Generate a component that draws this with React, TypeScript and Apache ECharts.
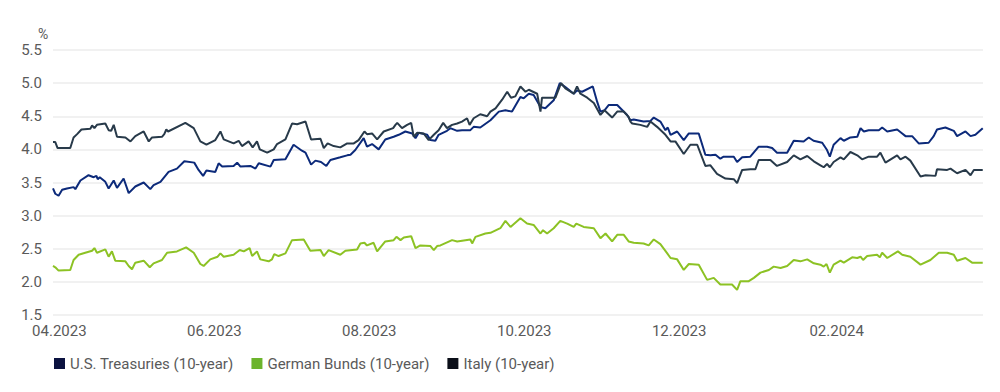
import React, { useEffect, useRef } from "react";
import * as echarts from "echarts";

// x = days after 1 April 2023, y = yield in %
const usTreasuries: [number, number][] = [
  [-2.5, 3.41], [-1.6, 3.33], [-0.3, 3.3], [1.1, 3.39], [3.0, 3.41], [5.6, 3.43], [6.3, 3.4], [8.3, 3.53], [11.5, 3.61], [13.5, 3.58],
  [14.6, 3.6], [15.1, 3.55], [15.9, 3.58], [18.1, 3.51], [19.4, 3.41], [21.4, 3.53], [22.7, 3.42], [25.3, 3.56], [27.3, 3.34], [29.9, 3.44],
  [33.2, 3.5], [35.8, 3.4], [37.1, 3.46], [39.8, 3.51], [43.0, 3.66], [46.3, 3.71], [49.2, 3.82], [53.1, 3.8], [54.8, 3.69], [56.6, 3.6],
  [57.9, 3.68], [61.4, 3.66], [62.7, 3.79], [64.1, 3.74], [68.6, 3.75], [70.0, 3.8], [71.3, 3.74], [75.2, 3.75], [77.2, 3.71], [78.5, 3.79],
  [83.1, 3.74], [84.4, 3.84], [89.0, 3.85], [92.2, 4.07], [95.5, 3.98], [96.9, 3.95], [99.1, 3.77], [100.8, 3.83], [103.0, 3.81], [105.1, 3.75],
  [106.7, 3.84], [110.6, 3.88], [113.3, 3.91], [114.6, 3.92], [116.5, 3.99], [119.8, 4.17], [121.1, 4.04], [123.1, 4.08], [125.7, 4.0], [128.3, 4.15],
  [131.6, 4.19], [133.6, 4.22], [136.2, 4.27], [138.9, 4.24], [140.2, 4.17], [141.5, 4.25], [144.8, 4.22], [146.1, 4.14], [148.0, 4.13], [149.3, 4.22],
  [152.6, 4.28], [153.9, 4.32], [156.6, 4.28], [158.5, 4.29], [161.8, 4.29], [163.1, 4.34], [165.7, 4.33], [169.7, 4.44], [173.0, 4.57], [175.6, 4.59],
  [178.2, 4.57], [181.5, 4.79], [182.8, 4.77], [184.8, 4.84], [186.7, 4.82], [189.4, 4.64], [191.3, 4.62], [194.6, 4.74], [197.0, 5.0], [199.2, 4.94],
  [202.5, 4.84], [203.8, 4.89], [205.8, 4.87], [210.0, 4.95], [211.7, 4.72], [213.0, 4.57], [214.6, 4.59], [216.3, 4.67], [219.6, 4.67], [223.5, 4.52],
  [224.8, 4.44], [226.1, 4.45], [230.0, 4.42], [232.7, 4.43], [234.0, 4.48], [236.6, 4.42], [238.6, 4.29], [239.5, 4.33], [240.6, 4.22], [243.2, 4.27],
  [245.8, 4.14], [247.8, 4.24], [251.7, 4.24], [254.3, 3.92], [256.3, 3.91], [258.3, 3.92], [260.2, 3.86], [261.5, 3.89], [265.5, 3.89], [266.8, 3.81],
  [268.8, 3.88], [272.0, 3.89], [275.3, 4.04], [278.6, 4.04], [280.6, 4.02], [282.5, 3.95], [286.5, 3.95], [289.1, 4.13], [293.0, 4.12], [295.0, 4.18],
  [296.9, 4.13], [300.3, 4.1], [302.2, 3.99], [303.3, 3.89], [304.8, 4.07], [307.5, 4.17], [308.8, 4.13], [311.4, 4.18], [314.1, 4.19], [315.4, 4.32],
  [316.7, 4.27], [318.6, 4.29], [322.6, 4.29], [323.9, 4.33], [325.9, 4.27], [329.8, 4.3], [331.8, 4.24], [333.1, 4.2], [335.7, 4.2], [338.3, 4.09],
  [342.2, 4.1], [344.2, 4.2], [345.5, 4.3], [348.8, 4.33], [352.1, 4.28], [353.4, 4.2], [356.7, 4.27], [358.7, 4.2], [360.6, 4.22], [363.5, 4.32],
];

const germanBunds: [number, number][] = [
  [-2.5, 2.24], [-1.6, 2.22], [-0.3, 2.17], [4.3, 2.18], [5.6, 2.33], [7.6, 2.41], [10.2, 2.44], [12.9, 2.47], [13.8, 2.51], [14.8, 2.44],
  [18.1, 2.49], [19.4, 2.38], [20.7, 2.46], [22.0, 2.32], [26.0, 2.31], [27.3, 2.24], [28.6, 2.19], [29.9, 2.29], [33.2, 2.32], [35.6, 2.22],
  [37.1, 2.28], [40.4, 2.33], [42.4, 2.44], [46.3, 2.46], [49.9, 2.52], [52.9, 2.44], [55.5, 2.27], [56.8, 2.24], [59.4, 2.34], [62.3, 2.38],
  [63.4, 2.43], [64.7, 2.38], [68.6, 2.41], [71.0, 2.48], [72.6, 2.46], [74.9, 2.51], [75.9, 2.39], [77.8, 2.46], [79.1, 2.34], [82.4, 2.31],
  [83.7, 2.34], [84.6, 2.42], [86.3, 2.39], [89.0, 2.43], [91.6, 2.63], [96.2, 2.64], [98.8, 2.47], [102.8, 2.48], [104.1, 2.39], [106.0, 2.48],
  [110.6, 2.41], [112.6, 2.47], [117.2, 2.49], [118.5, 2.58], [120.1, 2.59], [121.1, 2.55], [123.7, 2.59], [125.1, 2.46], [128.3, 2.61], [131.6, 2.63],
  [132.7, 2.68], [134.3, 2.63], [135.6, 2.67], [138.5, 2.69], [140.2, 2.51], [142.1, 2.55], [146.1, 2.54], [147.4, 2.48], [148.7, 2.54], [150.0, 2.55],
  [154.6, 2.63], [156.6, 2.61], [161.8, 2.64], [162.5, 2.58], [163.8, 2.68], [167.7, 2.73], [169.7, 2.74], [173.6, 2.81], [175.6, 2.92], [177.6, 2.83],
  [181.5, 2.96], [184.1, 2.88], [186.7, 2.86], [189.4, 2.73], [190.4, 2.78], [192.0, 2.73], [194.6, 2.81], [197.2, 2.92], [199.9, 2.88], [202.5, 2.83],
  [203.5, 2.88], [206.4, 2.83], [210.4, 2.81], [213.0, 2.66], [215.0, 2.73], [217.6, 2.61], [219.6, 2.71], [222.2, 2.71], [224.1, 2.61], [226.1, 2.59],
  [230.0, 2.58], [232.0, 2.55], [234.0, 2.64], [236.6, 2.57], [239.3, 2.43], [240.6, 2.36], [243.2, 2.34], [245.8, 2.18], [247.8, 2.27], [251.7, 2.26],
  [255.0, 2.03], [257.6, 2.06], [260.2, 1.96], [264.8, 1.96], [266.8, 1.88], [268.1, 2.01], [271.4, 2.01], [273.4, 2.06], [276.0, 2.14], [279.3, 2.18],
  [281.2, 2.23], [283.9, 2.21], [286.5, 2.24], [289.1, 2.33], [291.7, 2.31], [294.4, 2.34], [297.0, 2.28], [299.6, 2.26], [300.9, 2.23], [302.0, 2.27],
  [303.3, 2.14], [304.8, 2.26], [307.5, 2.32], [308.8, 2.29], [312.1, 2.37], [314.1, 2.36], [315.4, 2.38], [316.4, 2.33], [318.0, 2.39], [321.9, 2.41],
  [323.0, 2.37], [323.9, 2.44], [325.9, 2.36], [330.1, 2.46], [331.8, 2.41], [335.0, 2.38], [339.0, 2.26], [342.9, 2.33], [346.2, 2.44], [349.5, 2.44],
  [352.1, 2.41], [353.4, 2.32], [356.7, 2.36], [359.3, 2.29], [363.5, 2.29],
];

const italy: [number, number][] = [
  [-2.5, 4.11], [-1.6, 4.11], [-0.7, 4.02], [4.3, 4.02], [5.6, 4.18], [7.0, 4.23], [8.7, 4.3], [12.2, 4.31], [12.9, 4.36], [13.8, 4.32],
  [14.8, 4.37], [18.1, 4.39], [19.4, 4.29], [20.4, 4.28], [21.4, 4.37], [22.7, 4.19], [26.0, 4.18], [28.0, 4.12], [29.9, 4.2], [33.2, 4.27],
  [35.2, 4.12], [36.5, 4.18], [40.4, 4.19], [41.3, 4.23], [42.1, 4.3], [42.8, 4.27], [49.6, 4.4], [52.9, 4.32], [55.5, 4.12], [57.9, 4.07],
  [61.4, 4.14], [63.4, 4.27], [64.7, 4.15], [68.6, 4.09], [70.6, 4.13], [71.9, 4.05], [74.5, 4.12], [76.1, 4.03], [77.8, 4.12], [78.9, 4.0],
  [81.8, 3.95], [84.4, 4.0], [85.7, 4.08], [89.0, 4.15], [91.6, 4.39], [93.6, 4.38], [96.9, 4.42], [99.1, 4.15], [102.8, 4.16], [104.1, 4.02],
  [105.6, 4.09], [108.0, 4.05], [110.6, 4.03], [113.3, 4.09], [115.9, 4.09], [117.8, 4.14], [120.1, 4.27], [121.1, 4.23], [123.1, 4.24], [125.1, 4.15],
  [127.7, 4.27], [131.4, 4.32], [132.3, 4.37], [133.0, 4.4], [134.9, 4.32], [136.9, 4.37], [138.5, 4.4], [139.5, 4.19], [140.8, 4.25], [143.4, 4.24],
  [145.4, 4.14], [147.4, 4.22], [149.3, 4.29], [151.1, 4.4], [152.6, 4.32], [154.6, 4.37], [156.6, 4.39], [158.5, 4.42], [160.5, 4.47], [161.5, 4.37],
  [163.1, 4.47], [165.7, 4.53], [168.4, 4.5], [169.7, 4.57], [171.7, 4.62], [174.3, 4.75], [176.3, 4.87], [177.8, 4.78], [179.5, 4.8], [181.5, 4.95],
  [183.5, 4.87], [184.8, 4.9], [188.1, 4.84], [189.4, 4.57], [190.0, 4.78], [195.3, 4.78], [197.5, 5.0], [199.2, 4.92], [202.5, 4.84], [203.8, 4.95],
  [205.1, 4.84], [207.8, 4.78], [210.4, 4.7], [213.0, 4.52], [214.6, 4.59], [217.6, 4.48], [219.6, 4.57], [222.2, 4.57], [224.1, 4.49], [224.8, 4.42],
  [225.5, 4.39], [228.7, 4.37], [231.4, 4.34], [232.7, 4.42], [235.3, 4.34], [238.6, 4.22], [240.6, 4.12], [242.5, 4.12], [245.8, 3.93], [248.4, 4.07],
  [251.1, 4.07], [254.3, 3.75], [256.3, 3.76], [258.9, 3.63], [262.2, 3.56], [265.5, 3.55], [266.8, 3.49], [268.8, 3.69], [272.0, 3.7], [274.0, 3.7],
  [275.3, 3.84], [279.9, 3.84], [282.5, 3.75], [286.5, 3.81], [289.1, 3.91], [291.7, 3.85], [294.4, 3.9], [297.0, 3.82], [299.6, 3.76], [300.9, 3.73],
  [302.2, 3.78], [303.3, 3.73], [304.8, 3.81], [307.5, 3.88], [308.8, 3.85], [311.4, 3.96], [314.1, 3.91], [316.0, 3.85], [318.6, 3.89], [321.9, 3.89],
  [323.2, 3.95], [325.2, 3.8], [329.8, 3.91], [331.1, 3.85], [333.1, 3.89], [335.0, 3.83], [339.0, 3.59], [341.0, 3.61], [344.9, 3.6], [345.5, 3.7],
  [349.5, 3.69], [350.8, 3.71], [353.4, 3.64], [356.7, 3.69], [358.7, 3.61], [360.0, 3.69], [363.5, 3.69],
];

const seriesNames = ["U.S. Treasuries (10-year)", "German Bunds (10-year)", "Italy (10-year)"];
// month-start label positions, in days after 1 April 2023
const tickDays = [0, 61, 122, 183, 244, 306];
const tickLabels = ["04.2023", "06.2023", "08.2023", "10.2023", "12.2023", "02.2024"];
const xStartDay = -2.5;
const xEndDay = 363.6;

const FONT = "Roboto, 'Noto Sans', sans-serif";

export default function App() {
  const ref = useRef<HTMLDivElement>(null);
  useEffect(() => {
    document.body.style.margin = "0";
    if (!ref.current) return;
    const chart = echarts.init(ref.current, undefined, { renderer: "svg" });
    const lineColors = ["#0c2a7a", "#8cc224", "#283a4a"];
    const iconColors = ["#0b1240", "#6cb42c", "#0a0e18"];
    const raw = [usTreasuries, germanBunds, italy];
    chart.setOption({
      animation: false,
      textStyle: { fontFamily: FONT },
      grid: { left: 53, right: 17, top: 50, bottom: 77, containLabel: false, outerBoundsMode: "none" },
      legend: {
        left: 49,
        top: 351,
        icon: "rect",
        itemWidth: 11,
        itemHeight: 11,
        itemGap: 18,
        itemStyle: { borderWidth: 0 },
        textStyle: { color: "#5a5a5a", fontSize: 15, fontFamily: FONT },
        data: seriesNames.map((n, i) => ({ name: n, itemStyle: { color: iconColors[i] } })),
      },
      xAxis: {
        type: "value",
        min: xStartDay,
        max: xEndDay,
        axisLine: { show: false },
        axisTick: { show: false },
        splitLine: { show: false },
        axisLabel: {
          customValues: tickDays,
          color: "#5a5a5a",
          fontSize: 15,
          margin: 8,
          fontFamily: FONT,
          formatter: (v: number) => {
            const i = tickDays.indexOf(Math.round(v));
            return i >= 0 ? tickLabels[i] : "";
          },
        },
      },
      yAxis: {
        type: "value",
        min: 1.5,
        max: 5.5,
        interval: 0.5,
        name: "%",
        nameLocation: "end",
        nameGap: 9,
        nameTextStyle: { color: "#5a5a5a", fontSize: 14, align: "right", padding: [0, 11, 0, 0], fontFamily: FONT },
        axisLine: { show: false },
        axisTick: { show: false },
        splitLine: { lineStyle: { color: "#ececec", width: 1.5 } },
        axisLabel: {
          color: "#5a5a5a",
          fontSize: 15,
          margin: 11,
          fontFamily: FONT,
          formatter: (v: number) => v.toFixed(1),
        },
      },
      series: raw.map((pts, i) => ({
        name: seriesNames[i],
        type: "line",
        showSymbol: false,
        symbol: "none",
        data: pts,
        lineStyle: { color: lineColors[i], width: 2 },
        itemStyle: { color: iconColors[i] },
        emphasis: { disabled: true },
      })),
    });
    return () => chart.dispose();
  }, []);
  return <div ref={ref} style={{ width: 1000, height: 392 }} />;
}
